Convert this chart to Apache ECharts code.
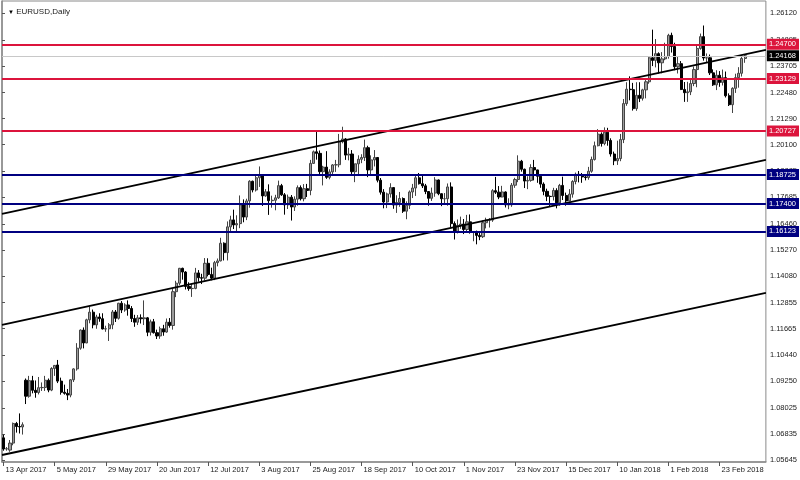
<!DOCTYPE html>
<html><head><meta charset="utf-8">
<script src="https://cdn.jsdelivr.net/npm/echarts@6/dist/echarts.min.js"></script>
<style>html,body{margin:0;padding:0;background:#fff}#c{width:800px;height:480px}</style>
</head><body><div id="c"></div>
<script>
// Daily candles, EURUSD: [open, close, low, high]
const ohlc = [
[1.0666,1.0615,1.0607,1.0680],[1.0615,1.0616,1.0607,1.0624],[1.0610,1.0642,1.0602,1.0656],[1.0642,1.0732,1.0632,1.0736],
[1.0732,1.0718,1.0690,1.0739],[1.0718,1.0716,1.0686,1.0778],[1.0716,1.0726,1.0681,1.0737],[1.0930,1.0857,1.0821,1.0938],
[1.0857,1.0928,1.0850,1.0950],[1.0928,1.0884,1.0870,1.0950],[1.0884,1.0874,1.0850,1.0929],[1.0874,1.0896,1.0865,1.0945],
[1.0896,1.0897,1.0881,1.0920],[1.0897,1.0930,1.0881,1.0950],[1.0930,1.0885,1.0875,1.0938],[1.0885,1.0984,1.0880,1.0990],
[1.0984,1.0998,1.0950,1.0999],[1.1000,1.0926,1.0917,1.1023],[1.0926,1.0875,1.0864,1.0942],[1.0875,1.0870,1.0864,1.0910],
[1.0870,1.0862,1.0839,1.0890],[1.0862,1.0932,1.0852,1.0935],[1.0932,1.0982,1.0922,1.0985],[1.0982,1.1077,1.0974,1.1100],
[1.1077,1.1160,1.1070,1.1163],[1.1160,1.1101,1.1076,1.1172],[1.1101,1.1207,1.1100,1.1212],[1.1207,1.1242,1.1191,1.1268],
[1.1242,1.1184,1.1168,1.1254],[1.1184,1.1220,1.1166,1.1230],[1.1220,1.1212,1.1198,1.1237],[1.1212,1.1165,1.1163,1.1237],
[1.1165,1.1166,1.1152,1.1180],[1.1166,1.1184,1.1110,1.1192],[1.1184,1.1243,1.1164,1.1252],[1.1243,1.1214,1.1197,1.1252],
[1.1214,1.1283,1.1208,1.1285],[1.1283,1.1252,1.1238,1.1293],[1.1252,1.1275,1.1244,1.1283],[1.1275,1.1259,1.1226,1.1296],
[1.1259,1.1213,1.1197,1.1270],[1.1213,1.1196,1.1175,1.1230],[1.1196,1.1216,1.1183,1.1229],[1.1216,1.1212,1.1190,1.1232],
[1.1212,1.1216,1.1183,1.1296],[1.1216,1.1150,1.1132,1.1220],[1.1150,1.1198,1.1135,1.1208],[1.1198,1.1148,1.1144,1.1211],
[1.1148,1.1133,1.1119,1.1162],[1.1133,1.1166,1.1120,1.1176],[1.1166,1.1151,1.1134,1.1184],[1.1151,1.1196,1.1148,1.1213],
[1.1196,1.1181,1.1171,1.1215],[1.1181,1.1336,1.1162,1.1349],[1.1336,1.1375,1.1311,1.1386],[1.1375,1.1443,1.1366,1.1445],
[1.1443,1.1426,1.1391,1.1446],[1.1426,1.1360,1.1346,1.1430],[1.1360,1.1350,1.1340,1.1379],[1.1350,1.1351,1.1312,1.1371],
[1.1351,1.1422,1.1347,1.1445],[1.1422,1.1400,1.1382,1.1435],[1.1400,1.1398,1.1371,1.1418],[1.1398,1.1466,1.1387,1.1490],
[1.1466,1.1415,1.1406,1.1489],[1.1415,1.1398,1.1388,1.1446],[1.1398,1.1469,1.1389,1.1477],[1.1469,1.1477,1.1452,1.1488],
[1.1477,1.1558,1.1475,1.1583],[1.1558,1.1515,1.1479,1.1562],[1.1515,1.1633,1.1479,1.1658],[1.1633,1.1665,1.1612,1.1684],
[1.1665,1.1642,1.1623,1.1712],[1.1642,1.1648,1.1612,1.1686],[1.1648,1.1734,1.1627,1.1777],[1.1734,1.1678,1.1654,1.1759],
[1.1678,1.1752,1.1664,1.1762],[1.1752,1.1842,1.1721,1.1847],[1.1842,1.1802,1.1791,1.1845],[1.1802,1.1858,1.1795,1.1868],
[1.1858,1.1869,1.1816,1.1910],[1.1869,1.1775,1.1729,1.1872],[1.1775,1.1794,1.1771,1.1806],[1.1794,1.1753,1.1688,1.1828],
[1.1753,1.1755,1.1721,1.1776],[1.1755,1.1766,1.1709,1.1780],[1.1766,1.1822,1.1761,1.1845],[1.1822,1.1780,1.1775,1.1830],
[1.1780,1.1734,1.1689,1.1788],[1.1734,1.1769,1.1715,1.1781],[1.1769,1.1724,1.1662,1.1779],[1.1724,1.1760,1.1706,1.1773],
[1.1760,1.1813,1.1730,1.1823],[1.1813,1.1762,1.1754,1.1823],[1.1762,1.1808,1.1750,1.1829],[1.1808,1.1800,1.1770,1.1830],
[1.1800,1.1924,1.1778,1.1940],[1.1924,1.1977,1.1922,1.1983],[1.1977,1.1970,1.1941,1.2070],[1.1970,1.1886,1.1872,1.1983],
[1.1886,1.1907,1.1823,1.1913],[1.1907,1.1860,1.1853,1.1980],[1.1860,1.1885,1.1851,1.1897],[1.1885,1.1917,1.1866,1.1921],
[1.1917,1.1918,1.1885,1.1940],[1.1918,1.2023,1.1906,1.2059],[1.2023,1.2036,1.2016,1.2092],[1.2036,1.1962,1.1940,1.2040],
[1.1962,1.1967,1.1938,1.1995],[1.1967,1.1886,1.1869,1.1985],[1.1886,1.1922,1.1838,1.1923],[1.1922,1.1943,1.1870,1.1961],
[1.1943,1.1951,1.1925,1.1966],[1.1951,1.1996,1.1935,1.2033],[1.1996,1.1894,1.1861,1.2005],[1.1894,1.1940,1.1867,1.1961],
[1.1940,1.1951,1.1910,1.1985],[1.1951,1.1847,1.1837,1.1952],[1.1847,1.1792,1.1781,1.1857],[1.1792,1.1747,1.1718,1.1806],
[1.1747,1.1784,1.1719,1.1790],[1.1784,1.1813,1.1767,1.1833],[1.1813,1.1733,1.1716,1.1815],[1.1733,1.1745,1.1697,1.1778],
[1.1745,1.1763,1.1725,1.1793],[1.1763,1.1705,1.1697,1.1768],[1.1705,1.1732,1.1668,1.1750],[1.1732,1.1793,1.1715,1.1800],
[1.1793,1.1811,1.1765,1.1830],[1.1811,1.1858,1.1775,1.1875],[1.1858,1.1831,1.1827,1.1880],[1.1831,1.1821,1.1811,1.1868],
[1.1821,1.1795,1.1783,1.1830],[1.1795,1.1764,1.1730,1.1797],[1.1764,1.1788,1.1752,1.1813],[1.1788,1.1848,1.1771,1.1861],
[1.1848,1.1785,1.1778,1.1850],[1.1785,1.1762,1.1728,1.1787],[1.1762,1.1762,1.1738,1.1788],[1.1762,1.1816,1.1730,1.1832],
[1.1816,1.1648,1.1630,1.1837],[1.1648,1.1608,1.1575,1.1658],[1.1608,1.1640,1.1603,1.1667],[1.1640,1.1646,1.1624,1.1680],
[1.1646,1.1621,1.1600,1.1669],[1.1621,1.1656,1.1612,1.1688],[1.1656,1.1608,1.1602,1.1690],[1.1608,1.1610,1.1567,1.1612],
[1.1610,1.1594,1.1553,1.1616],[1.1594,1.1588,1.1572,1.1605],[1.1588,1.1652,1.1582,1.1662],[1.1652,1.1664,1.1626,1.1675],
[1.1664,1.1664,1.1630,1.1673],[1.1664,1.1799,1.1656,1.1806],[1.1799,1.1792,1.1784,1.1862],[1.1792,1.1770,1.1760,1.1820],
[1.1770,1.1793,1.1768,1.1821],[1.1793,1.1734,1.1722,1.1796],[1.1734,1.1734,1.1714,1.1764],[1.1734,1.1824,1.1725,1.1834],
[1.1824,1.1850,1.1812,1.1858],[1.1850,1.1934,1.1838,1.1961],[1.1934,1.1897,1.1886,1.1940],[1.1897,1.1843,1.1811,1.1900],
[1.1843,1.1846,1.1806,1.1865],[1.1846,1.1905,1.1840,1.1920],[1.1905,1.1894,1.1846,1.1940],[1.1894,1.1865,1.1835,1.1895],
[1.1865,1.1829,1.1812,1.1869],[1.1829,1.1796,1.1778,1.1837],[1.1796,1.1773,1.1751,1.1808],[1.1773,1.1772,1.1729,1.1777],
[1.1772,1.1800,1.1754,1.1812],[1.1800,1.1743,1.1718,1.1810],[1.1743,1.1823,1.1730,1.1830],[1.1823,1.1777,1.1756,1.1863],
[1.1777,1.1752,1.1730,1.1790],[1.1752,1.1783,1.1751,1.1806],[1.1783,1.1841,1.1767,1.1847],[1.1841,1.1874,1.1828,1.1882],
[1.1874,1.1870,1.1837,1.1889],[1.1870,1.1862,1.1835,1.1880],[1.1862,1.1859,1.1846,1.1875],[1.1859,1.1888,1.1849,1.1908],
[1.1888,1.1942,1.1881,1.1955],[1.1942,1.2005,1.1937,1.2024],[1.2005,1.2058,1.2002,1.2081],[1.2058,1.2015,1.2001,1.2066],
[1.2015,1.2067,1.2007,1.2089],[1.2067,1.2029,1.2005,1.2087],[1.2029,1.1967,1.1955,1.2039],[1.1967,1.1936,1.1916,1.1978],
[1.1936,1.1946,1.1917,1.2028],[1.1946,1.2033,1.1934,1.2059],[1.2033,1.2198,1.2017,1.2219],[1.2198,1.2264,1.2188,1.2296],
[1.2264,1.2262,1.2213,1.2323],[1.2262,1.2175,1.2166,1.2293],[1.2175,1.2236,1.2165,1.2296],[1.2236,1.2222,1.2205,1.2296],
[1.2222,1.2261,1.2212,1.2266],[1.2261,1.2298,1.2222,1.2306],[1.2298,1.2408,1.2289,1.2415],[1.2408,1.2396,1.2370,1.2537],
[1.2396,1.2427,1.2364,1.2494],[1.2427,1.2385,1.2336,1.2433],[1.2385,1.2403,1.2337,1.2434],[1.2403,1.2414,1.2397,1.2477],
[1.2414,1.2511,1.2404,1.2518],[1.2511,1.2460,1.2432,1.2523],[1.2460,1.2367,1.2351,1.2477],[1.2367,1.2381,1.2336,1.2415],
[1.2381,1.2263,1.2260,1.2393],[1.2263,1.2248,1.2206,1.2297],[1.2248,1.2252,1.2206,1.2298],[1.2252,1.2290,1.2237,1.2306],
[1.2290,1.2354,1.2278,1.2368],[1.2354,1.2451,1.2273,1.2467],[1.2451,1.2505,1.2445,1.2519],[1.2505,1.2407,1.2395,1.2556],
[1.2407,1.2408,1.2386,1.2428],[1.2408,1.2339,1.2329,1.2423],[1.2339,1.2284,1.2279,1.2355],[1.2284,1.2328,1.2260,1.2351],
[1.2328,1.2295,1.2275,1.2347],[1.2295,1.2317,1.2281,1.2354],[1.2317,1.2234,1.2226,1.2345],[1.2234,1.2193,1.2187,1.2245],
[1.2193,1.2268,1.2155,1.2273],[1.2268,1.2317,1.2247,1.2335],[1.2317,1.2337,1.2271,1.2365],[1.2337,1.2405,1.2322,1.2413],
[1.2405,1.2417,1.2385,1.2425]
];
const yTickLabels = ['1.05645','1.06835','1.08025','1.09250','1.10440','1.11665','1.12855','1.14080','1.15270',
  '1.16460','1.17685','1.18885','1.20100','1.21290','1.22480','1.23705','1.24895','1.26120'];
const redLevels = [1.24700, 1.23129, 1.20727];
const blueLevels = [1.18725, 1.17400, 1.16123];
const bidPrice = 1.24168;
// channel lines: [price at left edge, price at right edge]
const channelTop = [1.16921, 1.24438];
const channelMid = [1.11833, 1.19396];
const channelLow = [1.05874, 1.13300];
const firstDay = '2017-04-13';
const holidays = ['2017-12-25', '2018-01-01'];
const totalSlots = 239;
const monthNames = ['Jan','Feb','Mar','Apr','May','Jun','Jul','Aug','Sep','Oct','Nov','Dec'];

const categories = [];
let d = new Date(firstDay + 'T00:00:00Z');
while (categories.length < totalSlots) {
  const wd = d.getUTCDay();
  const iso = d.toISOString().slice(0, 10);
  if (wd !== 0 && wd !== 6 && holidays.indexOf(iso) < 0) categories.push(iso);
  d = new Date(d.getTime() + 86400000);
}
const FONT = 'Liberation Sans';
const TXT = '#1a1a1a';

function levelLine(v, color, width, boxColor) {
  return {
    yAxis: v,
    lineStyle: { color: color, width: width, type: 'solid' },
    label: {
      show: true, position: 'end', distance: 1,
      formatter: function () { return v.toFixed(5); },
      color: '#fff', backgroundColor: boxColor, padding: [2, 3, 1, 2],
      fontSize: 7.5, fontFamily: FONT
    }
  };
}
function channel(name, pair) {
  return {
    name: name, type: 'line', xAxisIndex: 1, yAxisIndex: 0,
    data: [[0, pair[0]], [1, pair[1]]],
    symbol: 'none', silent: true, z: 4,
    lineStyle: { color: '#000', width: 1.8 }
  };
}

const chart = echarts.init(document.getElementById('c'), null, { renderer: 'canvas' });
chart.setOption({
  animation: false,
  backgroundColor: '#fff',
  title: {
    text: '{t|▼} EURUSD,Daily', left: 3, top: 3,
    textStyle: { fontSize: 8, fontWeight: 'normal', color: TXT, fontFamily: FONT,
      rich: { t: { fontSize: 6, color: '#000' } } }
  },
  grid: { left: 2, right: 34, top: 1, bottom: 18, show: true, borderColor: '#8a8a8a', borderWidth: 1 },
  xAxis: [{
    type: 'category', data: categories, boundaryGap: true,
    axisLine: { show: true, lineStyle: { color: '#8a8a8a', width: 1.5 } },
    axisTick: { show: true, alignWithLabel: true, interval: 15, length: 4, lineStyle: { color: '#555' } },
    axisLabel: {
      interval: 15, align: 'left', margin: 4, padding: [0, 0, 0, 2],
      fontSize: 7.5, color: TXT, fontFamily: FONT,
      formatter: function (v) { const p = v.split('-'); return (+p[2]) + ' ' + monthNames[+p[1] - 1] + ' ' + p[0]; }
    },
    splitLine: { show: false }
  }, {
    type: 'value', min: 0, max: 1, show: false
  }],
  yAxis: [{
    type: 'value', position: 'right', min: 1.05553, max: 1.26683, scale: true,
    axisLine: { show: true, lineStyle: { color: '#8a8a8a', width: 1.5 } },
    axisTick: { show: true, length: 3, customValues: yTickLabels.map(Number), lineStyle: { color: '#555' } },
    axisLabel: {
      customValues: yTickLabels.map(Number), margin: 4, fontSize: 7.5, color: TXT, fontFamily: FONT,
      formatter: function (v) { return Number(v).toFixed(5); }
    },
    splitLine: { show: false }
  }],
  series: [{
    name: 'EURUSD', type: 'candlestick', xAxisIndex: 0, yAxisIndex: 0,
    data: ohlc.map(function (r) { return [r[0], r[1], r[2], r[3]]; }),
    barWidth: 2.6,
    itemStyle: { color: '#9c9c9c', color0: '#000', borderColor: '#444', borderColor0: '#000', borderWidth: 1 },
    markLine: {
      symbol: ['none', 'none'], silent: true, animation: false, z: 5, precision: 5,
      data: [levelLine(bidPrice, '#c8c8c8', 1, '#000')]
        .concat(redLevels.map(function (v) { return levelLine(v, '#dc143c', 2, '#dc143c'); }))
        .concat(blueLevels.map(function (v) { return levelLine(v, '#000080', 2, '#000080'); }))
    }
  },
  channel('top', channelTop), channel('mid', channelMid), channel('low', channelLow)]
});
</script></body></html>
